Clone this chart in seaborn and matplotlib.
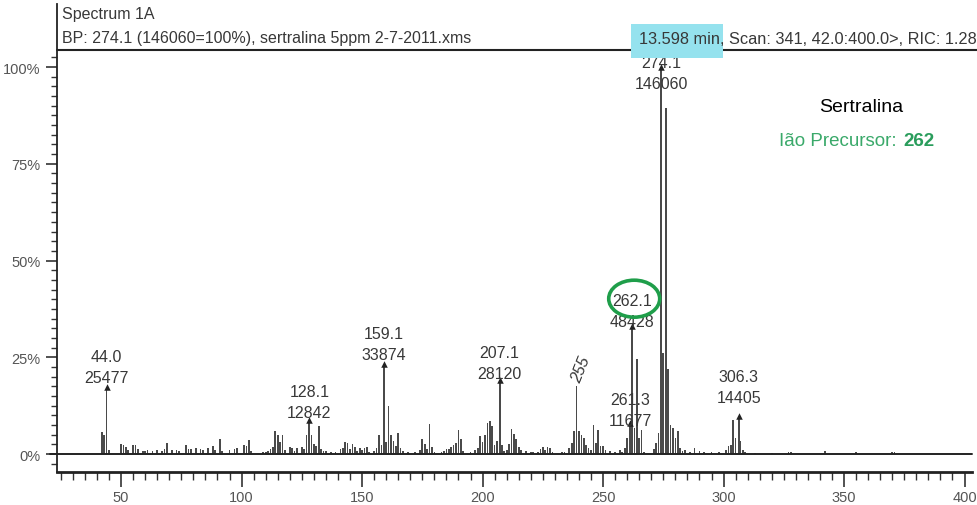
import numpy as np
import pandas as pd
import matplotlib
matplotlib.use("Agg")
import matplotlib.pyplot as plt
from matplotlib.patches import Ellipse, Rectangle
from matplotlib.transforms import ScaledTranslation
import seaborn as sns

# ---------------- data ----------------
mz = [42, 43, 44.0, 45, 50, 51, 52, 53, 55, 56, 57, 59, 60, 61, 63, 65, 67, 68, 69, 71,
      73, 74, 77, 78, 79, 81, 83, 84, 86, 88, 89, 91, 92, 95, 97, 98, 101, 102, 103, 104,
      109, 110, 111, 112, 113, 114, 115, 116, 117, 118, 120, 121, 122, 123, 125, 126, 127,
      128.1, 129, 130, 131, 132, 133, 134, 135, 137, 139, 141, 142, 143, 144, 145, 146, 147,
      148, 149, 150, 151, 152, 153, 155, 156, 157, 158, 159.1, 160, 161, 162, 163, 164, 165,
      166, 167, 169, 172, 174, 175, 176, 177, 178, 179, 180, 183, 184, 185, 186, 187, 188,
      189, 190, 191, 192, 195, 197, 198, 199, 200, 201, 202, 203, 204, 205, 206, 207.1, 208,
      209, 210, 211, 212, 213, 214, 215, 216, 218, 220, 221, 223, 224, 225, 226, 227, 228,
      229, 233, 234, 236, 237, 238, 239, 240, 241, 242, 243, 244, 245, 246, 247, 248, 249,
      250, 251, 253, 255, 257, 258, 259, 260, 261.3, 262.1, 263, 264, 265, 266, 267, 271,
      272, 273, 274.1, 275, 276, 277, 278, 279, 280, 281, 282, 283, 284, 286, 288, 290, 292,
      295, 298, 301, 302, 303, 304, 305, 306.3, 307, 308, 309, 313, 320, 327, 328, 342, 355,
      370, 371]
pct = [5.8, 4.8, 17.44, 1.0, 2.6, 2.2, 1.8, 1.0, 2.2, 2.4, 1.2, 0.8, 0.7, 1.0, 0.9, 1.0, 0.8,
       1.2, 2.8, 1.0, 1.0, 0.8, 2.3, 1.2, 1.4, 1.6, 1.2, 1.1, 1.5, 2.0, 1.0, 3.9, 0.9, 1.1,
       1.4, 1.6, 2.2, 2.0, 3.6, 0.8, 0.4, 0.6, 0.9, 1.2, 1.8, 6.0, 4.9, 3.0, 4.8, 1.0, 1.7,
       1.5, 0.8, 1.5, 1.9, 1.2, 5.0, 8.79, 4.8, 2.5, 2.0, 7.3, 1.2, 0.8, 0.7, 0.5, 0.6, 1.2,
       1.6, 3.0, 2.8, 1.2, 2.7, 1.8, 0.8, 1.5, 1.0, 1.6, 1.8, 0.6, 0.8, 1.5, 4.8, 2.4, 23.19,
       3.0, 12.5, 5.0, 3.4, 2.0, 5.5, 1.5, 0.7, 0.5, 0.6, 1.0, 3.8, 2.6, 1.2, 7.8, 1.8, 0.6,
       0.5, 0.8, 1.3, 1.2, 1.9, 2.2, 2.8, 6.2, 3.8, 0.8, 0.5, 1.0, 1.5, 4.6, 3.0, 5.0, 8.1,
       8.6, 7.3, 2.3, 3.4, 19.25, 2.3, 0.8, 1.0, 2.5, 6.4, 5.1, 4.0, 1.9, 1.0, 0.8, 0.5, 0.4,
       0.5, 1.2, 1.9, 1.0, 1.9, 1.5, 0.6, 0.6, 0.5, 1.5, 2.8, 5.9, 17.6, 5.9, 5.0, 4.1, 2.4,
       1.6, 1.0, 7.6, 2.8, 6.3, 2.0, 2.0, 1.0, 0.7, 0.5, 1.1, 0.6, 1.6, 4.1, 7.99, 33.16, 6.7,
       24.6, 4.1, 6.3, 0.6, 1.2, 2.8, 5.5, 100.0, 26.0, 89.5, 22.0, 7.5, 6.7, 4.1, 5.9, 1.6,
       0.8, 1.1, 0.5, 1.6, 0.7, 0.4, 0.4, 0.5, 1.1, 2.0, 2.2, 8.9, 4.1, 9.86, 3.3, 1.1, 0.4,
       0.3, 0.3, 0.6, 0.4, 0.8, 0.4, 0.6, 0.4]

label_mz = [44.0, 128.1, 159.1, 207.1, 261.3, 262.1, 274.1, 306.3]
label_counts = [25477, 12842, 33874, 28120, 11677, 48428, 146060, 14405]
label_pct = [17.44, 8.79, 23.19, 19.25, 7.99, 33.16, 100.0, 9.86]
label_offset_pt = [3.6, 2.2, 3.6, 1.4, -1.4, 0.0, -15.0, 10.0]

ytick_vals = [0, 25, 50, 75, 100]
ytick_labels = ["0%", "25%", "50%", "75%", "100%"]
xtick_vals = [50, 100, 150, 200, 250, 300, 350, 400]

header_title = "Spectrum 1A"
header_bp = "BP: 274.1 (146060=100%), sertralina 5ppm 2-7-2011.xms"
header_scan = "13.598 min, Scan: 341, 42.0:400.0>, RIC: 1.28"

# ---------------- style ----------------
sns.set_style("white")
plt.rcParams["font.family"] = ["Liberation Sans", "DejaVu Sans"]

W, H = 977, 506
fig = plt.figure(figsize=(W / 100, H / 100), dpi=100)
ax_l, ax_r, ax_t, ax_b = 57, 972, 5, 473
ax = fig.add_axes([ax_l / W, 1 - ax_b / H, (ax_r - ax_l) / W, (ax_b - ax_t) / H])

bar_c = "#4a4a4a"
txt_c = "#383838"
tick_c = "#555555"

df = pd.DataFrame({"mz": mz, "pct": pct})
sns.barplot(data=df, x="mz", y="pct", native_scale=True, orient="x", width=1.0,
            color=bar_c, saturation=1, errorbar=None, linewidth=0, ax=ax, zorder=2)

# arrow heads on labelled peaks
sns.scatterplot(x=label_mz, y=label_pct, marker="^", s=22, color="#222222",
                linewidth=0, ax=ax, zorder=4, legend=False)

ax.set_xlim(23.4, 403.1)
ax.set_ylim(-4.65, 116.3)
ax.set_xlabel("")
ax.set_ylabel("")

# 0% baseline
ax.axhline(0, xmin=-0.008, xmax=1.0, color="#222222", lw=1.4, zorder=3, clip_on=False)
# header underline
ax.axhline(104.4, xmin=0, xmax=(W - ax_l) / (ax_r - ax_l), color="#222222", lw=1.5,
           clip_on=False, zorder=3)

# axes / ticks
for s in ["top", "right"]:
    ax.spines[s].set_visible(False)
ax.spines["left"].set_color("#222222")
ax.spines["left"].set_linewidth(1.3)
ax.spines["bottom"].set_color("#222222")
ax.spines["bottom"].set_linewidth(2.0)

ax.set_yticks(ytick_vals, ytick_labels)
ax.set_yticks(np.arange(-2.5, 103, 2.5), minor=True)
ax.set_xticks(xtick_vals, [str(v) for v in xtick_vals])
ax.set_xticks(np.arange(25, 401, 5), minor=True)
ax.tick_params(axis="y", which="major", direction="out", length=8, width=1.2,
               color="#333333", labelsize=10.5, labelcolor=tick_c, pad=4, left=True)
ax.tick_params(axis="y", which="minor", direction="out", length=4, width=1.0,
               color="#333333", left=True)
ax.tick_params(axis="x", which="major", direction="out", length=11, width=1.2,
               color="#333333", labelsize=10.5, labelcolor=tick_c, pad=2, bottom=True)
ax.tick_params(axis="x", which="minor", direction="out", length=6, width=1.0,
               color="#333333", bottom=True)

# peak labels
for m, c, p, off in zip(label_mz, label_counts, label_pct, label_offset_pt):
    ax.annotate(f"{c}", (m, p), xytext=(0, off), textcoords="offset points",
                ha="center", va="baseline", fontsize=11.5, color=txt_c, zorder=5)
    ax.annotate(f"{m:.1f}", (m, p), xytext=(0, off + 15.1), textcoords="offset points",
                ha="center", va="baseline", fontsize=11.5, color=txt_c, zorder=5)

# green ellipse around precursor label 262.1
i_prec = label_mz.index(262.1)
off_tr = fig.dpi_scale_trans + ScaledTranslation(label_mz[i_prec], label_pct[i_prec], ax.transData)
ax.add_patch(Ellipse((0.02, 0.27), 0.51, 0.37, transform=off_tr, fill=False,
                     edgecolor="#1f9e4a", lw=2.6, zorder=6, clip_on=False))

# handwritten note near m/z 239
i239 = mz.index(239)
ax.annotate("255", (mz[i239], pct[i239]), xytext=(3, 12), textcoords="offset points",
            rotation=68, ha="center", va="center", fontsize=11.5, style="italic",
            color="#3a3a3a", zorder=5)

# header texts
fig.text(62 / W, 1 - 14 / H, header_title, ha="left", va="center", fontsize=11.5, color=txt_c)
fig.text(62 / W, 1 - 39 / H, header_bp, ha="left", va="center", fontsize=11.5, color=txt_c)
fig.patches.append(Rectangle((631 / W, 1 - 59 / H), 92 / W, 34 / H, transform=fig.transFigure,
                             facecolor="#95e2ee", edgecolor="none", zorder=0))
fig.text(639 / W, 1 - 40 / H, header_scan, ha="left", va="center", fontsize=11.8, color=txt_c,
         zorder=2)

# compound note
fig.text(861 / W, 1 - 107 / H, "Sertralina", ha="center", va="center", fontsize=14, color="black")
fig.text(897 / W, 1 - 142 / H, "Ião Precursor:", ha="right", va="center", fontsize=13.5,
         color="#3aa96a")
fig.text(903 / W, 1 - 142 / H, "262", ha="left", va="center", fontsize=13.5, fontweight="bold",
         color="#2a9d5c")

fig.savefig("out.png", dpi=100)
